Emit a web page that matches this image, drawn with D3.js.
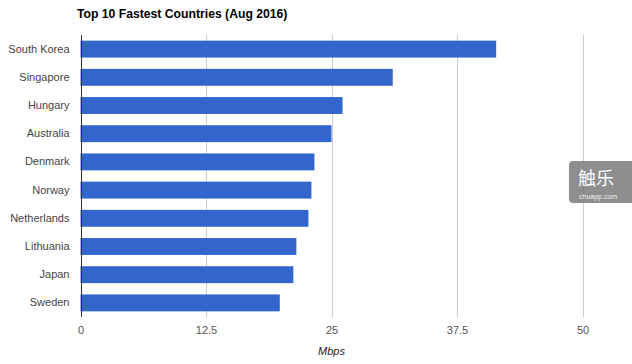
<!DOCTYPE html>
<html>
<head>
<meta charset="utf-8">
<script src="https://cdn.jsdelivr.net/npm/d3@7"></script>
<style>
  body { margin: 0; background: #fff; }
  svg { display: block; font-family: Arial, "Liberation Sans", sans-serif; }
</style>
</head>
<body>
<div class="chart"></div>
<script>
var width = 632,
    height = 364;

var countries = ["South Korea", "Singapore", "Hungary", "Australia", "Denmark",
                 "Norway", "Netherlands", "Lithuania", "Japan", "Sweden"];
var speeds = [41.4, 31.1, 26.1, 25.0, 23.3, 23.0, 22.7, 21.5, 21.2, 19.85];
var xTicks = [0, 12.5, 25, 37.5, 50];
var xTickLabels = ["0", "12.5", "25", "37.5", "50"];

var plot = { left: 80.5, right: 582.5, top: 35, bottom: 317 };

var svg = d3.select("div.chart").append("svg")
    .attr("width", width)
    .attr("height", height);

var xScale = d3.scaleLinear().domain([0, 50]).range([plot.left, plot.right]);
var yScale = d3.scaleBand().domain(countries)
    .range([plot.top, plot.bottom])
    .paddingInner(0.4)
    .paddingOuter(0.2);

// title
svg.append("text")
    .attr("x", 77)
    .attr("y", 18)
    .style("font-size", "12.2px")
    .style("font-weight", "bold")
    .attr("fill", "#000")
    .text("Top 10 Fastest Countries (Aug 2016)");

// vertical grid lines
svg.append("g")
    .selectAll("line")
    .data(xTicks.slice(1))
    .enter()
    .append("line")
    .attr("x1", function(d) { return Math.round(xScale(d)) + 0.5; })
    .attr("x2", function(d) { return Math.round(xScale(d)) + 0.5; })
    .attr("y1", plot.top)
    .attr("y2", plot.bottom)
    .attr("stroke", "#cccccc");

// bars
svg.append("g")
    .selectAll("rect")
    .data(countries)
    .enter()
    .append("rect")
    .attr("x", xScale(0))
    .attr("y", function(d) { return yScale(d); })
    .attr("width", function(d, i) { return xScale(speeds[i]) - xScale(0); })
    .attr("height", yScale.bandwidth())
    .attr("fill", "#3366cc");

// baseline
svg.append("line")
    .attr("x1", Math.round(xScale(0)) + 0.5)
    .attr("x2", Math.round(xScale(0)) + 0.5)
    .attr("y1", plot.top)
    .attr("y2", plot.bottom)
    .attr("stroke", "#333333");

// category labels
var yAxis = d3.axisLeft(yScale).tickSize(0).tickPadding(11);
var yg = svg.append("g")
    .attr("transform", "translate(" + plot.left + ",0)")
    .call(yAxis);
yg.select(".domain").remove();
yg.selectAll("text")
    .style("font-size", "11px")
    .style("font-family", "Arial, 'Liberation Sans', sans-serif")
    .attr("fill", "#444");

// x tick labels
var xAxis = d3.axisBottom(xScale)
    .tickValues(xTicks)
    .tickFormat(function(d, i) { return xTickLabels[i]; })
    .tickSize(0)
    .tickPadding(9);
var xg = svg.append("g")
    .attr("transform", "translate(0," + plot.bottom + ")")
    .call(xAxis);
xg.select(".domain").remove();
xg.selectAll("text")
    .style("font-size", "11px")
    .style("font-family", "Arial, 'Liberation Sans', sans-serif")
    .attr("fill", "#555");

// axis title
svg.append("text")
    .attr("x", (plot.left + plot.right) / 2)
    .attr("y", 355)
    .attr("text-anchor", "middle")
    .style("font-size", "11px")
    .style("font-style", "italic")
    .attr("fill", "#222")
    .text("Mbps");

// watermark
var wm = svg.append("g");
wm.append("rect")
    .attr("x", 569)
    .attr("y", 161)
    .attr("width", 75)
    .attr("height", 42)
    .attr("rx", 4)
    .attr("fill", "#7a7a7a")
    .attr("fill-opacity", 0.85);
wm.append("text")
    .attr("x", 578)
    .attr("y", 185)
    .style("font-family", "'Noto Sans CJK SC', sans-serif")
    .style("font-size", "18px")
    .attr("fill", "#fff")
    .text("触乐");
wm.append("text")
    .attr("x", 579)
    .attr("y", 199)
    .style("font-size", "7px")
    .attr("fill", "#eee")
    .text("chuapp.com");
</script>
</body>
</html>
